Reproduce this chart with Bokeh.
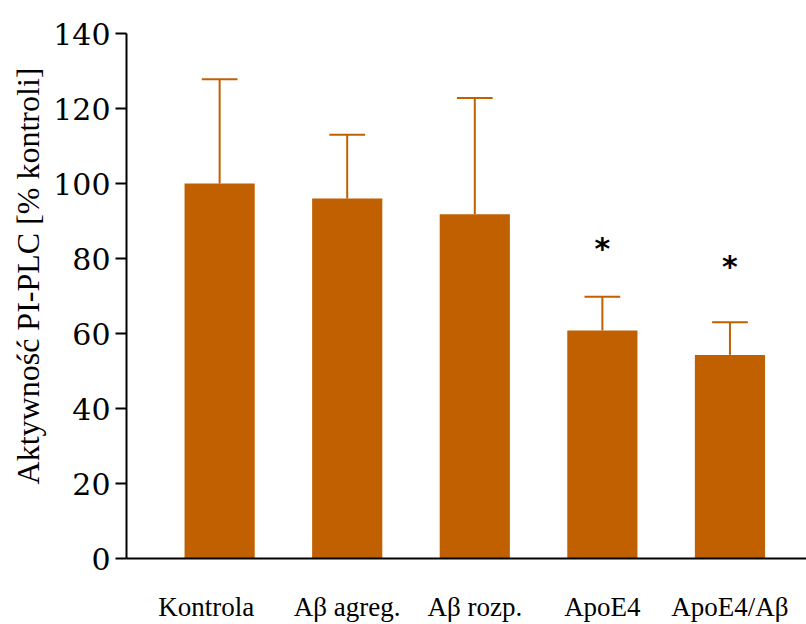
from bokeh.plotting import figure
from bokeh.models import FixedTicker, ColumnDataSource
from bokeh.core.properties import value
from bokeh.embed import file_html
from bokeh.resources import INLINE

categories = ["Kontrola", "Aβ agreg.", "Aβ rozp.", "ApoE4", "ApoE4/Aβ"]
means = [100, 96, 91.8, 60.8, 54.3]
sd = [27.8, 17, 31, 9, 8.7]
star_y = [None, None, None, 82.7, 78.0]
y_ticks = [0, 20, 40, 60, 80, 100, 120, 140]

color = "#C06000"
NBSP = "\u00a0"
xs = list(range(len(categories)))
tops = [m + s for m, s in zip(means, sd)]

p = figure(width=806, height=624, output_backend="svg", toolbar_location=None,
           x_range=(-0.73, 4.6), y_range=(0, 140),
           min_border_left=126, min_border_right=0, min_border_top=33, min_border_bottom=62)
p.outline_line_color = None
p.grid.visible = False
p.background_fill_color = "white"

src = ColumnDataSource(dict(x=xs, m=means, t=tops,
                            cl=[x - 0.14 for x in xs], cr=[x + 0.14 for x in xs]))
p.vbar(x="x", top="m", bottom=0, width=0.55, source=src, fill_color=color, line_color=None)
p.segment(x0="x", y0="m", x1="x", y1="t", source=src, line_color=color, line_width=2)
p.segment(x0="cl", y0="t", x1="cr", y1="t", source=src, line_color=color, line_width=2)

sx = [x for x, s in zip(xs, star_y) if s is not None]
sy = [s for s in star_y if s is not None]
p.text(x=sx, y=sy, text=["*"] * len(sx), text_align="center", text_baseline="middle",
       text_font=value("DejaVu Sans"), text_font_size="30px", text_font_style="bold",
       text_color="black")

# y axis
ya = p.yaxis[0]
ya.ticker = FixedTicker(ticks=y_ticks)
ya.minor_tick_line_color = None
ya.major_tick_out = 11
ya.major_tick_in = 0
ya.major_tick_line_width = 2
ya.axis_line_width = 2
ya.axis_line_color = "black"
ya.major_tick_line_color = "black"
ya.major_label_text_font = "DejaVu Serif"
ya.major_label_text_font_size = "30px"
ya.major_label_text_color = "black"
ya.major_label_standoff = 5
ya.axis_label = NBSP * 5 + "Aktywność PI-PLC [% kontroli]"
ya.axis_label_text_font = "Liberation Serif"
ya.axis_label_text_font_size = "32px"
ya.axis_label_text_font_style = "normal"
ya.axis_label_text_color = "black"
ya.axis_label_standoff = 4

# x axis
xa = p.xaxis[0]
xa.ticker = FixedTicker(ticks=xs)
labels = list(categories)
labels[0] = labels[0] + NBSP * 4
xa.major_label_overrides = {i: c for i, c in enumerate(labels)}
xa.minor_tick_line_color = None
xa.major_tick_line_color = None
xa.axis_line_width = 2
xa.axis_line_color = "black"
xa.major_label_text_font = "Liberation Serif"
xa.major_label_text_font_size = "27px"
xa.major_label_text_color = "black"
xa.major_label_standoff = 27

open("out.html", "w").write(file_html(p, INLINE))
